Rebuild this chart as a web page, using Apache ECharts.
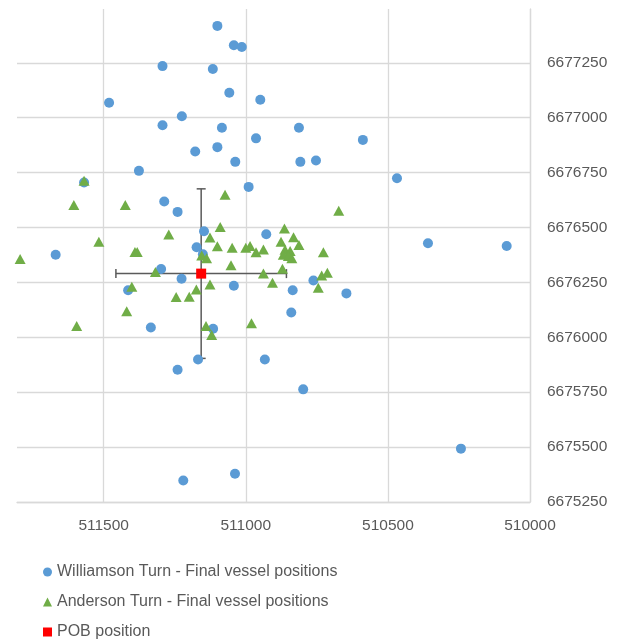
<!DOCTYPE html>
<html>
<head>
<meta charset="utf-8">
<script src="https://cdn.jsdelivr.net/npm/echarts@6/dist/echarts.min.js"></script>
<style>
  html, body { margin: 0; padding: 0; background: #ffffff; }
  #chart { width: 625px; height: 639px; }
</style>
</head>
<body>
<div id="chart"></div>
<script>
// Final vessel positions (easting / northing, metres)
const williamsonEasting = [511100, 511042, 511014, 511293, 511116, 511481, 511058, 510949, 511225, 511293,
  511084, 510813, 510964, 510588, 511100, 511178, 511037, 510808, 510753, 511376,
  510468, 511569, 510990, 511287, 511240, 511147, 510928, 511173, 510359, 510082,
  511669, 511151, 511298, 511226, 510762, 511414, 511042, 510835, 510646, 510840,
  511334, 511115, 511168, 511240, 510933, 510798, 510243, 511038, 511220];
const williamsonNorthing = [6677418, 6677330, 6677322, 6677235, 6677222, 6677068, 6677114, 6677082, 6677007, 6676966,
  6676954, 6676954, 6676906, 6676899, 6676866, 6676846, 6676799, 6676799, 6676805, 6676758,
  6676724, 6676705, 6676685, 6676618, 6676571, 6676483, 6676469, 6676410, 6676428, 6676416,
  6676376, 6676378, 6676311, 6676267, 6676259, 6676214, 6676235, 6676214, 6676200, 6676113,
  6676045, 6676039, 6675899, 6675852, 6675899, 6675763, 6675493, 6675379, 6675348];

const andersonEasting = [511569, 511605, 511424, 511073, 510673, 511271, 511090, 510864, 511517, 511126,
  511100, 511048, 511000, 510985, 510964, 510938, 510876, 510832, 510813, 510862,
  510844, 510868, 510850, 510838, 510727, 511390, 511382, 511794, 511155, 511138,
  511318, 511052, 510938, 510871, 510733, 510713, 510745, 510906, 511126, 511174,
  511401, 511245, 511199, 511419, 511595, 511140, 511120, 510980];
const andersonNorthing = [6676713, 6676603, 6676603, 6676649, 6676576, 6676468, 6676502, 6676495, 6676435, 6676455,
  6676415, 6676408, 6676408, 6676416, 6676387, 6676400, 6676435, 6676456, 6676420, 6676399,
  6676393, 6676376, 6676370, 6676360, 6676387, 6676388, 6676388, 6676357, 6676372, 6676360,
  6676297, 6676328, 6676290, 6676312, 6676281, 6676294, 6676226, 6676248, 6676241, 6676218,
  6676230, 6676184, 6676185, 6676119, 6676052, 6676051, 6676010, 6676064];

// Person-overboard position with its spread (±)
const pobEasting = [511157];
const pobNorthing = [6676290];
const pobErrEasting = [300];
const pobErrNorthing = [386];

const seriesNames = [
  'Williamson Turn - Final vessel positions',
  'Anderson Turn - Final vessel positions',
  'POB position'
];

// Axis ranges
const eastingMin = 510000, eastingMax = 511805, eastingStep = 500;
const northingMin = 6675250, northingMax = 6677495, northingStep = 250;

const zip = (xs, ys) => xs.map((x, i) => [x, ys[i]]);
const plainNumber = v => String(Math.round(v));

const textColor = '#595959';
const gridColor = '#D9D9D9';
const fontFamily = '"Liberation Sans", Arial, sans-serif';

const chart = echarts.init(document.getElementById('chart'), null, { renderer: 'canvas' });

chart.setOption({
  backgroundColor: '#ffffff',
  animation: false,
  textStyle: { fontFamily: fontFamily },
  grid: { left: 17, right: 95, top: 9, bottom: 137, containLabel: false },
  xAxis: {
    type: 'value',
    inverse: true,
    min: eastingMin,
    max: eastingMax,
    interval: eastingStep,
    axisLine: { show: true, lineStyle: { color: gridColor, width: 1.3 } },
    axisTick: { show: false },
    axisLabel: {
      color: textColor, fontSize: 15.5, fontFamily: fontFamily, margin: 16,
      showMaxLabel: false, formatter: plainNumber
    },
    splitLine: { show: true, showMaxLine: false, lineStyle: { color: gridColor, width: 1.3 } }
  },
  yAxis: {
    type: 'value',
    position: 'right',
    min: northingMin,
    max: northingMax,
    interval: northingStep,
    axisLine: { show: true, lineStyle: { color: gridColor, width: 1.3 } },
    axisTick: { show: false },
    axisLabel: {
      color: textColor, fontSize: 15.5, fontFamily: fontFamily, margin: 17,
      showMaxLabel: false, formatter: plainNumber
    },
    splitLine: { show: true, showMaxLine: false, lineStyle: { color: gridColor, width: 1.3 } }
  },
  legend: {
    orient: 'vertical',
    left: 43,
    top: 564,
    height: 120,
    padding: 0,
    itemGap: 14,
    itemWidth: 9,
    itemHeight: 9,
    data: seriesNames,
    textStyle: { color: textColor, fontSize: 16, fontFamily: fontFamily }
  },
  series: [
    {
      // error bars for the POB position, drawn under the markers
      type: 'custom',
      name: 'POB spread',
      z: 1,
      silent: true,
      data: pobEasting.map((x, i) => [x, pobNorthing[i], pobErrEasting[i], pobErrNorthing[i]]),
      renderItem: function (params, api) {
        const x = api.value(0), y = api.value(1), ex = api.value(2), ey = api.value(3);
        const left = api.coord([x + ex, y]);
        const right = api.coord([x - ex, y]);
        const top = api.coord([x, y + ey]);
        const bottom = api.coord([x, y - ey]);
        const cap = 4.5;
        const style = { stroke: '#5a5a5a', lineWidth: 1.5 };
        const line = (x1, y1, x2, y2) => ({ type: 'line', shape: { x1, y1, x2, y2 }, style });
        return {
          type: 'group',
          children: [
            line(left[0], left[1], right[0], right[1]),
            line(left[0], left[1] - cap, left[0], left[1] + cap),
            line(right[0], right[1] - cap, right[0], right[1] + cap),
            line(top[0], top[1], bottom[0], bottom[1]),
            line(top[0] - cap, top[1], top[0] + cap, top[1]),
            line(bottom[0] - cap, bottom[1], bottom[0] + cap, bottom[1])
          ]
        };
      }
    },
    {
      type: 'scatter',
      name: seriesNames[0],
      z: 2,
      symbol: 'circle',
      symbolSize: 10,
      itemStyle: { color: '#5B9BD5', opacity: 1 },
      data: zip(williamsonEasting, williamsonNorthing)
    },
    {
      type: 'scatter',
      name: seriesNames[1],
      z: 3,
      symbol: 'triangle',
      symbolSize: [11, 10],
      itemStyle: { color: '#70AD47', opacity: 1 },
      data: zip(andersonEasting, andersonNorthing)
    },
    {
      type: 'scatter',
      name: seriesNames[2],
      z: 4,
      symbol: 'rect',
      symbolSize: 10,
      itemStyle: { color: '#FF0000', opacity: 1 },
      data: zip(pobEasting, pobNorthing)
    }
  ]
});
</script>
</body>
</html>
